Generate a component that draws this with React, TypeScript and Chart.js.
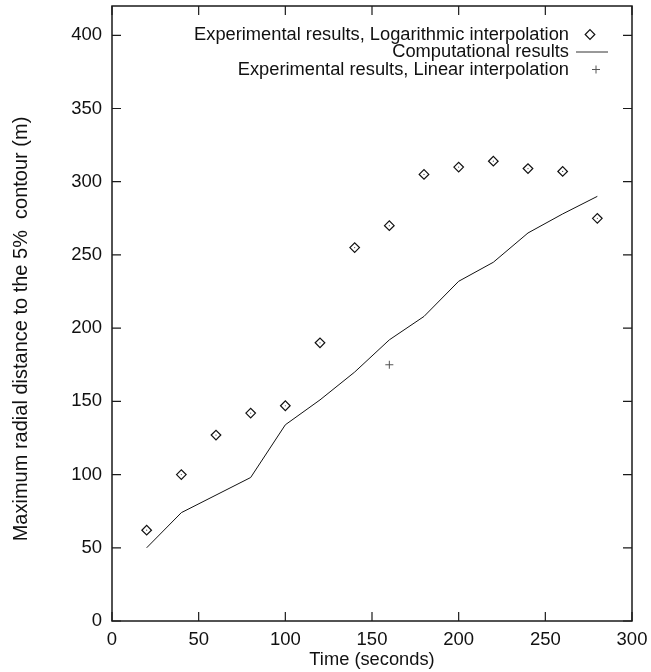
import React, { useEffect, useRef } from 'react';
import { Chart, registerables } from 'chart.js';

Chart.register(...registerables);

// ---- data ----
const times = [20, 40, 60, 80, 100, 120, 140, 160, 180, 200, 220, 240, 260, 280];
const logInterp = [62, 100, 127, 142, 147, 190, 255, 270, 305, 310, 314, 309, 307, 275];
const computational = [50, 74, 86, 98, 134, 151, 170, 192, 208, 232, 245, 265, 278, 290];
const linearTimes = [160];
const linearInterp = [175];
const legendLabels = [
  'Experimental results, Logarithmic interpolation',
  'Computational results',
  'Experimental results, Linear interpolation',
];
const xTitle = 'Time (seconds)';
const yTitle = 'Maximum radial distance to the 5%  contour (m)';
const xTickValues = [0, 50, 100, 150, 200, 250, 300];
const yTickValues = [0, 50, 100, 150, 200, 250, 300, 350, 400];

const FONT = '"Liberation Sans", Arial, Helvetica, sans-serif';
const FS = 18.3;
const TICK_FS = 18.5;

const framePlugin = {
  id: 'frameTicks',
  afterDraw(chart: any) {
    const { ctx, chartArea: a, scales } = chart;
    const xs = scales.x;
    const ys = scales.y;
    ctx.save();
    ctx.strokeStyle = '#1a1a1a';
    ctx.lineWidth = 1.5;
    ctx.strokeRect(a.left, a.top, a.right - a.left, a.bottom - a.top);
    ctx.lineWidth = 1.2;
    const L = 9;
    ctx.beginPath();
    xTickValues.forEach((v) => {
      const px = xs.getPixelForValue(v);
      ctx.moveTo(px, a.bottom);
      ctx.lineTo(px, a.bottom - L);
      ctx.moveTo(px, a.top);
      ctx.lineTo(px, a.top + L);
    });
    yTickValues.forEach((v) => {
      const py = ys.getPixelForValue(v);
      ctx.moveTo(a.left, py);
      ctx.lineTo(a.left + L, py);
      ctx.moveTo(a.right, py);
      ctx.lineTo(a.right - L, py);
    });
    ctx.stroke();
    // y axis title
    ctx.translate(21, 329);
    ctx.rotate(-Math.PI / 2);
    ctx.font = `20px ${FONT}`;
    ctx.fillStyle = '#111';
    ctx.textAlign = 'center';
    ctx.textBaseline = 'middle';
    ctx.fillText(yTitle, 0, 0);
    ctx.restore();
  },
};

const legendPlugin = {
  id: 'customLegend',
  afterDatasetsDraw(chart: any) {
    const { ctx } = chart;
    const textRight = 569;
    const symX = 590;
    const rows = [34.5, 52, 69.5];
    ctx.save();
    ctx.font = `${FS}px ${FONT}`;
    ctx.fillStyle = '#111';
    ctx.textAlign = 'right';
    ctx.textBaseline = 'middle';
    legendLabels.forEach((t, i) => ctx.fillText(t, textRight, rows[i]));
    // diamond
    ctx.strokeStyle = '#111';
    ctx.lineWidth = 1.2;
    ctx.beginPath();
    const r = 4.8;
    ctx.moveTo(symX, rows[0] - r);
    ctx.lineTo(symX + r, rows[0]);
    ctx.lineTo(symX, rows[0] + r);
    ctx.lineTo(symX - r, rows[0]);
    ctx.closePath();
    ctx.stroke();
    // line sample
    ctx.lineWidth = 1;
    ctx.strokeStyle = '#333';
    ctx.beginPath();
    ctx.moveTo(576, rows[1]);
    ctx.lineTo(608, rows[1]);
    ctx.stroke();
    // plus
    ctx.strokeStyle = '#555';
    ctx.beginPath();
    ctx.moveTo(596 - 4, rows[2]);
    ctx.lineTo(596 + 4, rows[2]);
    ctx.moveTo(596, rows[2] - 4);
    ctx.lineTo(596, rows[2] + 4);
    ctx.stroke();
    ctx.restore();
  },
};

export default function App() {
  const ref = useRef<HTMLCanvasElement>(null);
  useEffect(() => {
    document.body.style.margin = '0';
    const canvas = ref.current!;
    const chart = new Chart(canvas, {
      type: 'scatter',
      data: {
        datasets: [
          {
            label: legendLabels[1],
            type: 'line',
            data: times.map((t, i) => ({ x: t, y: computational[i] })),
            borderColor: '#111',
            borderWidth: 1,
            pointRadius: 0,
            tension: 0,
            fill: false,
          },
          {
            label: legendLabels[0],
            data: times.map((t, i) => ({ x: t, y: logInterp[i] })),
            pointStyle: 'rectRot',
            pointRadius: 4.8,
            borderColor: '#111',
            borderWidth: 1.2,
            backgroundColor: 'rgba(255,255,255,0)',
          },
          {
            label: 'centre dots',
            data: times.map((t, i) => ({ x: t, y: logInterp[i] })),
            pointStyle: 'circle',
            pointRadius: 0.6,
            borderWidth: 0,
            backgroundColor: '#444',
          },
          {
            label: legendLabels[2],
            data: linearTimes.map((t, i) => ({ x: t, y: linearInterp[i] })),
            pointStyle: 'cross',
            pointRadius: 4,
            borderColor: '#555',
            borderWidth: 1,
          },
        ],
      },
      options: {
        animation: false,
        responsive: false,
        layout: { padding: { top: 5, right: 19, left: 0, bottom: 0 } },
        plugins: { legend: { display: false }, tooltip: { enabled: false } },
        scales: {
          x: {
            type: 'linear',
            min: 0,
            max: 300,
            grid: { display: false, drawTicks: false },
            border: { display: false },
            ticks: {
              stepSize: 50,
              padding: 8,
              color: '#111',
              font: { family: FONT, size: TICK_FS },
              maxRotation: 0,
            },
            title: {
              display: true,
              text: xTitle,
              color: '#111',
              font: { family: FONT, size: FS },
              padding: { top: 0, bottom: 1 },
            },
            afterFit(scale: any) {
              scale.height = 51;
              scale.paddingLeft = 0;
              scale.paddingRight = 0;
            },
          },
          y: {
            type: 'linear',
            min: 0,
            max: 420,
            grid: { display: false, drawTicks: false },
            border: { display: false },
            ticks: {
              stepSize: 50,
              padding: 10,
              color: '#111',
              font: { family: FONT, size: TICK_FS },
            },
            afterBuildTicks(scale: any) {
              scale.ticks = yTickValues.map((v) => ({ value: v }));
            },
            title: { display: false, text: yTitle },
            afterFit(scale: any) {
              scale.width = 112;
              scale.paddingTop = 0;
              scale.paddingBottom = 0;
            },
          },
        },
      },
      plugins: [framePlugin, legendPlugin],
    });
    return () => chart.destroy();
  }, []);
  return <canvas ref={ref} width={651} height={672} style={{ display: 'block' }} />;
}
